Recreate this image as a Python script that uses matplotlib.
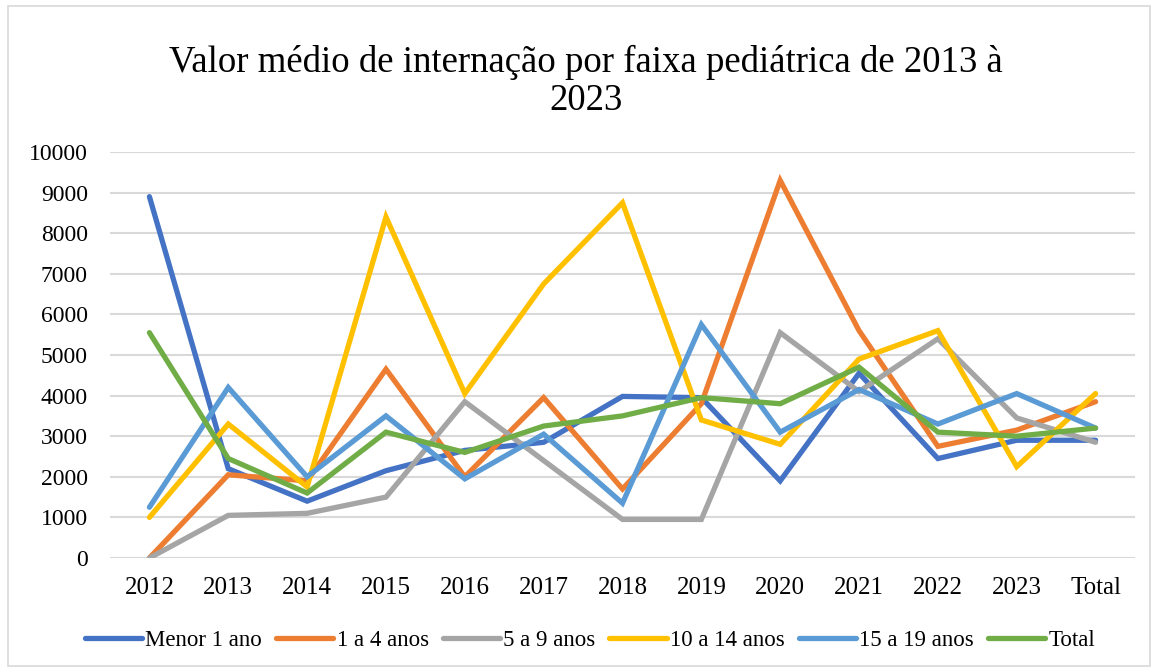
import matplotlib
matplotlib.use('Agg')
import matplotlib.pyplot as plt
import numpy as np
from matplotlib.patches import Rectangle

categorias = ['2012', '2013', '2014', '2015', '2016', '2017', '2018',
              '2019', '2020', '2021', '2022', '2023', 'Total']

menor_1 = [8900, 2200, 1400, 2150, 2650, 2850, 3980, 3950, 1900, 4550, 2450, 2900, 2900]
de_1_a_4 = [0, 2050, 1900, 4650, 2000, 3950, 1700, 3800, 9300, 5600, 2750, 3150, 3850]
de_5_a_9 = [0, 1050, 1100, 1500, 3850, 2400, 950, 950, 5550, 4100, 5400, 3450, 2850]
de_10_a_14 = [1000, 3300, 1750, 8400, 4050, 6750, 8750, 3400, 2800, 4900, 5600, 2250, 4050]
de_15_a_19 = [1250, 4200, 2000, 3500, 1950, 3050, 1350, 5750, 3100, 4150, 3300, 4050, 3200]
total = [5550, 2450, 1600, 3100, 2600, 3250, 3500, 3950, 3800, 4700, 3100, 3000, 3200]

series = [
    ('Menor 1 ano', menor_1, '#4472C4'),
    ('1 a 4 anos', de_1_a_4, '#ED7D31'),
    ('5 a 9 anos', de_5_a_9, '#A5A5A5'),
    ('10 a 14 anos', de_10_a_14, '#FFC000'),
    ('15 a 19 anos', de_15_a_19, '#5B9BD5'),
    ('Total', total, '#70AD47'),
]

plt.rcParams['font.family'] = ['Liberation Serif', 'DejaVu Serif']

fig = plt.figure(figsize=(11.56, 6.70), dpi=100)
ax = fig.add_axes([110 / 1156, 1 - 558 / 670, 1025 / 1156, 406 / 670])

x = np.arange(len(categorias))
for nome, vals, cor in series:
    ax.plot(x, vals, color=cor, linewidth=3.8, label=nome,
            solid_joinstyle='miter', solid_capstyle='round')

ax.set_xlim(-0.5, len(categorias) - 0.5)
ax.set_ylim(0, 10000)
ax.set_yticks(range(0, 10001, 1000))
ax.set_xticks(x)
ax.set_xticklabels(categorias)
ax.grid(axis='y', color='#D9D9D9', linewidth=1.5)
ax.set_axisbelow(True)
for s in ax.spines.values():
    s.set_visible(False)
ax.tick_params(axis='both', length=0, colors='#000000')
ax.tick_params(axis='x', pad=14, labelsize=18)
ax.tick_params(axis='y', pad=16, labelsize=17)

fig.text(586 / 1156, 1 - 62 / 670, 'Valor médio de internação por faixa pediátrica de 2013 à',
         ha='center', va='center', fontsize=26.5)
fig.text(586 / 1156, 1 - 101 / 670, '2023', ha='center', va='center', fontsize=26.5)

fig.legend(loc='center', bbox_to_anchor=(590 / 1156, 1 - 640 / 670), ncol=6, frameon=False,
           fontsize=16.5, handlelength=2.5, handletextpad=0.15, columnspacing=0.6)

fig.patches.append(Rectangle((8 / 1156, 4 / 670), 1142 / 1156, 660 / 670,
                             transform=fig.transFigure, fill=False,
                             edgecolor='#D9D9D9', linewidth=1.2))

fig.savefig('out.png', dpi=100)
